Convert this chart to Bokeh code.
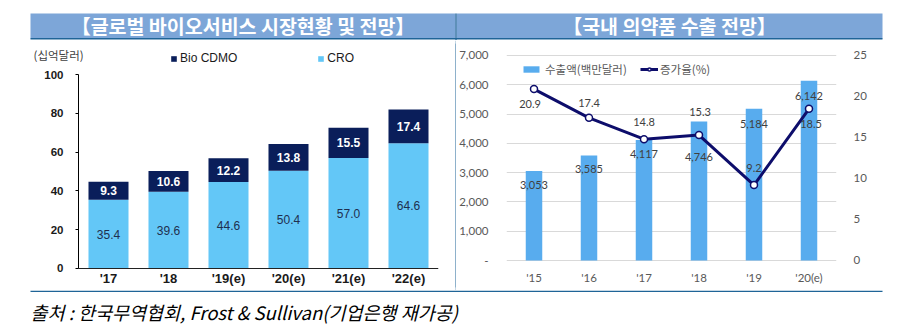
from bokeh.plotting import figure
from bokeh.models import (Range1d, FactorRange, LinearAxis, FixedTicker, Legend, LegendItem,
                          ColumnDataSource, LabelSet, Label)
from bokeh.layouts import column, row
from bokeh.embed import file_html
from bokeh.resources import INLINE
from bokeh.core.properties import value

# ---------------- data ----------------
left_title = "【글로벌 바이오서비스 시장현황 및 전망】"
right_title = "【국내 의약품 수출 전망】"
source_note = "출처 : 한국무역협회, Frost & Sullivan(기업은행 재가공)"

bio_years = ["'17", "'18", "'19(e)", "'20(e)", "'21(e)", "'22(e)"]
cro = [35.4, 39.6, 44.6, 50.4, 57.0, 64.6]
cdmo = [9.3, 10.6, 12.2, 13.8, 15.5, 17.4]
bio_series = ["Bio CDMO", "CRO"]
bio_unit = "(십억달러)"
bio_yticks = [0, 20, 40, 60, 80, 100]

exp_years = ["'15", "'16", "'17", "'18", "'19", "'20(e)"]
exports = [3053, 3585, 4117, 4746, 5184, 6142]
growth = [20.9, 17.4, 14.8, 15.3, 9.2, 18.5]
exp_series = ["수출액(백만달러)", "증가율(%)"]
exp_yticks = [0, 1000, 2000, 3000, 4000, 5000, 6000, 7000]
exp_ytick_labels = ["-", "1,000", "2,000", "3,000", "4,000", "5,000", "6,000", "7,000"]
growth_ticks = [0, 5, 10, 15, 20, 25]

# label placement (screen px, up = positive)
bar_label_dy = [-14, -13, -14, -35, -15, -15]
line_label_dx = [-4, 0, 0, 1, 0, 2]
line_label_dy = [-15, 15, 17, 23, 17, -15]

# ---------------- styles ----------------
KR = "Noto Sans CJK KR"
ARIAL = "Liberation Sans"
CAL = "Lato"
TITLE_BG = "#7da6d8"
FRAME_LINE = "#1f6497"
CRO_C = "#63c7f7"
CDMO_C = "#0a1e5a"
BAR_C = "#58acee"
LINE_C = "#0d0d6b"
GRAY_TXT = "#595959"

HDR_H = 40
FIG_H = 290 - HDR_H
BORDER_TOP = 3
BORDER_BOTTOM = 3


def bare(fig):
    fig.grid.visible = False
    fig.outline_line_color = None
    return fig


# ---------------- header ----------------
hdr = figure(width=906, height=HDR_H, x_range=Range1d(0, 906), y_range=Range1d(HDR_H, 0),
             x_axis_type=None, y_axis_type=None, toolbar_location=None,
             output_backend="svg", min_border=0)
bare(hdr)
hdr.quad(left=[30, 456], right=[455, 882], top=[13, 13], bottom=[38, 38],
         fill_color=TITLE_BG, line_color=None)
hdr.segment(x0=[30], y0=[38.2], x1=[882], y1=[38.2], line_color=FRAME_LINE, line_width=1.5)
hdr.segment(x0=[455.5], y0=[13], x1=[455.5], y1=[HDR_H], line_color=FRAME_LINE, line_width=1.2)
hdr.text(x=[242.5, 669], y=[25.3, 25.3], text=[left_title, right_title],
         text_align="center", text_baseline="middle", text_font=value(KR),
         text_font_style="bold", text_font_size="19.5px", text_color="white")

# ---------------- left chart ----------------
bio_x = [i + 0.5 for i in range(len(bio_years))]   # slot centres of the categories
src1 = ColumnDataSource(dict(
    x=bio_x, cro=cro, cdmo=cdmo,
    cro_mid=[c / 2 for c in cro],
    cdmo_mid=[c + d / 2 for c, d in zip(cro, cdmo)],
    cro_txt=[f"{c:.1f}" for c in cro],
    cdmo_txt=[f"{d:.1f}" for d in cdmo],
))

lp = figure(width=455, height=FIG_H, x_range=Range1d(-0.8, len(bio_years)),
            y_range=Range1d(-9.794, 115.98), toolbar_location=None, output_backend="svg",
            min_border_left=30, min_border_right=17, min_border_top=BORDER_TOP,
            min_border_bottom=BORDER_BOTTOM)
bare(lp)

rs = lp.vbar_stack(["cro", "cdmo"], x="x", width=0.667, color=[CRO_C, CDMO_C], source=src1,
                   line_color=None)
r_cro, r_cdmo = rs

lp.add_layout(LabelSet(x="x", y="cro_mid", text="cro_txt", source=src1, text_align="center",
                       text_baseline="middle", text_font=value(ARIAL), text_font_size="12px",
                       text_color="#1f2f4f"))
lp.add_layout(LabelSet(x="x", y="cdmo_mid", text="cdmo_txt", source=src1, text_align="center",
                       text_baseline="middle", text_font=value(ARIAL), text_font_size="12px",
                       text_font_style="bold", text_color="white"))

ly = lp.yaxis[0]
ly.fixed_location = 0
ly.ticker = FixedTicker(ticks=bio_yticks)
ly.bounds = (0, 100)
ly.minor_tick_line_color = None
ly.major_tick_out = 3
ly.major_tick_in = 0
ly.major_label_standoff = 12
ly.axis_line_color = "black"
ly.major_tick_line_color = "black"
ly.major_label_text_font = ARIAL
ly.major_label_text_font_style = "bold"
ly.major_label_text_font_size = "11.5px"
ly.major_label_text_color = "#1a1a1a"

lx = lp.xaxis[0]
lx.fixed_location = 0
lx.ticker = FixedTicker(ticks=bio_x)
lx.major_label_overrides = {x: lab for x, lab in zip(bio_x, bio_years)}
lx.bounds = (0, len(bio_years))
lx.major_tick_out = 0
lx.major_tick_in = 0
lx.minor_tick_line_color = None
lx.major_tick_line_color = None
lx.major_label_standoff = 3
lx.axis_line_color = "#222222"
lx.major_label_text_font = ARIAL
lx.major_label_text_font_style = "bold"
lx.major_label_text_font_size = "13px"
lx.major_label_text_color = "#1a1a1a"

leg1 = Legend(items=[LegendItem(label=bio_series[0], renderers=[r_cdmo]),
                     LegendItem(label=bio_series[1], renderers=[r_cro])],
              orientation="horizontal", location=(140, 222), spacing=80,
              glyph_width=7, glyph_height=7, label_standoff=3, label_height=12,
              padding=0, margin=0, border_line_color=None, background_fill_alpha=0,
              label_text_font=ARIAL, label_text_font_size="12px", label_text_color="#1a1a1a")
lp.add_layout(leg1)
lp.add_layout(Label(x=3, y=233, x_units="screen", y_units="screen", text=bio_unit,
                    text_baseline="middle", text_align="left", text_font=KR,
                    text_font_size="11.5px", text_color="#404040"))

# ---------------- separator ----------------
sep = figure(width=1, height=FIG_H, x_axis_type=None, y_axis_type=None, toolbar_location=None,
             output_backend="svg", min_border=0, background_fill_color=FRAME_LINE,
             border_fill_color=FRAME_LINE, outline_line_color=None)
sep.grid.visible = False

# ---------------- right chart ----------------
src2 = ColumnDataSource(dict(
    x=exp_years, exp=exports, gr=growth,
    exp_txt=[f"{v:,}" for v in exports],
    gr_txt=[f"{v:.1f}" for v in growth],
    bdy=bar_label_dy, ldx=line_label_dx, ldy=line_label_dy,
))

rp = figure(width=450, height=FIG_H, x_range=FactorRange(*exp_years),
            y_range=Range1d(-921.9, 7409.7), toolbar_location=None, output_backend="svg",
            min_border_left=45, min_border_right=70, min_border_top=BORDER_TOP,
            min_border_bottom=BORDER_BOTTOM)
rp.outline_line_color = None
rp.extra_y_ranges = {"pct": Range1d(-3.293, 26.463)}
r_bar = rp.vbar(x="x", top="exp", bottom=0, width=0.3, fill_color=BAR_C, line_color=None,
                source=src2)
r_line = rp.line(x="x", y="gr", y_range_name="pct", line_color=LINE_C, line_width=3, source=src2)
r_pts = rp.scatter(x="x", y="gr", y_range_name="pct", size=7, fill_color="white",
                   line_color=LINE_C, line_width=1.5, source=src2)

rp.xgrid.visible = False
rp.ygrid.ticker = FixedTicker(ticks=exp_yticks)
rp.ygrid.grid_line_color = "#d9d9d9"
rp.ygrid.grid_line_width = 1.2

yl = rp.yaxis[0]
yl.ticker = FixedTicker(ticks=exp_yticks)
yl.major_label_overrides = {t: s for t, s in zip(exp_yticks, exp_ytick_labels)}
yl.axis_line_color = None
yl.major_tick_line_color = None
yl.minor_tick_line_color = None
yl.major_label_standoff = 12
yl.major_label_text_font = CAL
yl.major_label_text_font_size = "11.5px"
yl.major_label_text_color = GRAY_TXT

yr = LinearAxis(y_range_name="pct", ticker=FixedTicker(ticks=growth_ticks))
yr.axis_line_color = None
yr.major_tick_line_color = None
yr.minor_tick_line_color = None
yr.major_label_standoff = 11
yr.major_label_text_font = CAL
yr.major_label_text_font_size = "11.5px"
yr.major_label_text_color = GRAY_TXT
rp.add_layout(yr, "right")

xa = rp.xaxis[0]
xa.fixed_location = 0
xa.axis_line_color = None
xa.major_tick_line_color = None
xa.major_tick_out = 0
xa.major_label_standoff = 10
xa.major_label_text_font = CAL
xa.major_label_text_font_size = "11.5px"
xa.major_label_text_color = GRAY_TXT

rp.add_layout(LabelSet(x="x", y="exp", text="exp_txt", y_offset="bdy", source=src2,
                       text_align="center", text_baseline="middle", text_font=value(CAL),
                       text_font_size="11px", text_color="#404040"))
rp.add_layout(LabelSet(x="x", y="gr", y_range_name="pct", text="gr_txt", x_offset="ldx",
                       y_offset="ldy", source=src2, text_align="center",
                       text_baseline="middle", text_font=value(CAL),
                       text_font_size="11px", text_color="#404040"))

leg2a = Legend(items=[LegendItem(label=exp_series[0], renderers=[r_bar])],
               location=(15, 210), glyph_width=20, glyph_height=8, label_standoff=4,
               label_height=12, padding=0, margin=0, border_line_color=None,
               background_fill_alpha=0, label_text_font=KR, label_text_font_size="11.5px",
               label_text_color=GRAY_TXT)
leg2b = Legend(items=[LegendItem(label=exp_series[1], renderers=[r_line, r_pts])],
               location=(134, 210), glyph_width=18, glyph_height=8, label_standoff=2,
               label_height=12, padding=0, margin=0, border_line_color=None,
               background_fill_alpha=0, label_text_font=KR, label_text_font_size="11.5px",
               label_text_color=GRAY_TXT)
rp.add_layout(leg2a)
rp.add_layout(leg2b)

# ---------------- footer ----------------
ftr = figure(width=906, height=46, x_range=Range1d(0, 906), y_range=Range1d(46, 0),
             x_axis_type=None, y_axis_type=None, toolbar_location=None,
             output_backend="svg", min_border=0)
bare(ftr)
ftr.segment(x0=[30], y0=[0.8], x1=[882], y1=[0.8], line_color=FRAME_LINE, line_width=1.5)
ftr.text(x=[30], y=[21], text=[source_note], text_align="left", text_baseline="middle",
         text_font=value(KR), text_font_style="italic", text_font_size="18.5px",
         text_color="black")

layout = column(hdr, row(lp, sep, rp), ftr)
open("out.html", "w").write(file_html(layout, INLINE))
